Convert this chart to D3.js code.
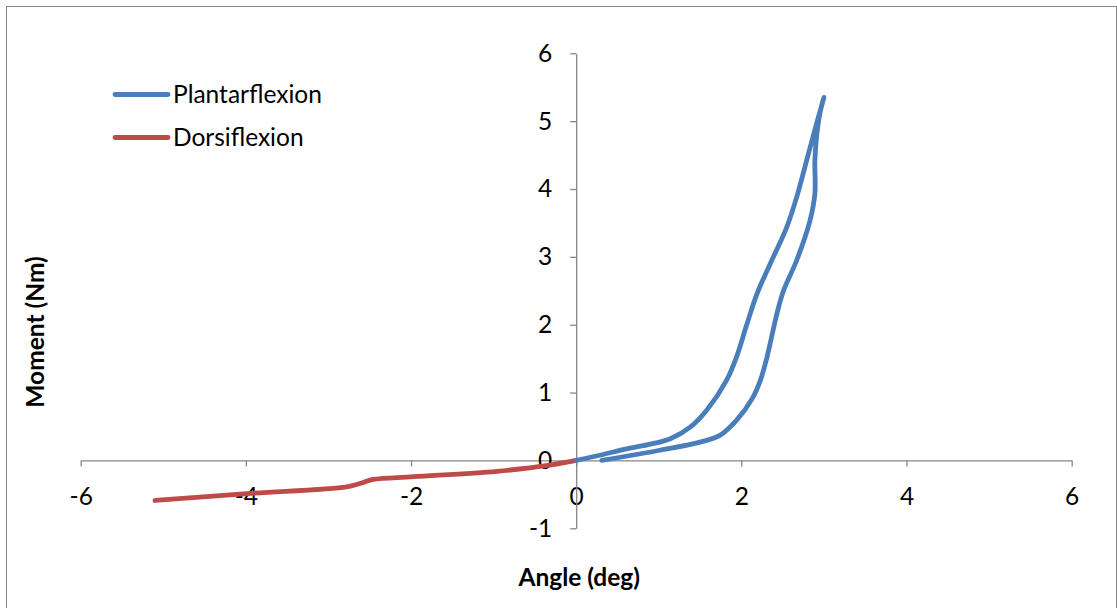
<!DOCTYPE html>
<html>
<head>
<meta charset="utf-8">
<script src="https://cdn.jsdelivr.net/npm/d3@7"></script>
<style>
  html, body { margin: 0; padding: 0; background: #ffffff; }
  svg { display: block; }
  text { font-family: Lato, "Liberation Sans", sans-serif; fill: #000; }
</style>
</head>
<body>
<script>
// Ankle moment–angle data (angle in degrees, moment in Nm)
const plantarAngle  = [0.00, 0.30, 0.61, 0.90, 1.14, 1.38, 1.58, 1.82, 1.94, 2.06, 2.19, 2.35, 2.55, 2.67, 2.79, 2.91, 3.00,
                       2.95, 2.91, 2.89, 2.89, 2.83, 2.67, 2.51, 2.43, 2.31, 2.23, 2.14, 1.94, 1.74, 1.50, 1.01, 0.31];
const plantarMoment = [0.00, 0.08, 0.17, 0.24, 0.32, 0.49, 0.74, 1.18, 1.52, 1.98, 2.46, 2.90, 3.44, 3.88, 4.42, 4.96, 5.35,
                       5.11, 4.76, 4.42, 3.93, 3.53, 2.95, 2.50, 2.16, 1.52, 1.18, 0.93, 0.59, 0.37, 0.27, 0.15, 0.00];

const dorsiAngle  = [0.00, -0.32, -0.96, -1.97, -2.46, -2.62, -2.78, -3.99, -5.10];
const dorsiMoment = [0.00, -0.07, -0.16, -0.24, -0.28, -0.34, -0.39, -0.49, -0.59];

const xTicks = [-6, -4, -2, 0, 2, 4, 6];
const yTicks = [-1, 0, 1, 2, 3, 4, 5, 6];

const seriesNames  = ["Plantarflexion", "Dorsiflexion"];
const seriesColors = ["#4A7EBB", "#BE4B48"];

const W = 1117, H = 608;
const fontSize = "24.5px";
const svg = d3.select("body").append("svg").attr("width", W).attr("height", H);

// chart frame
svg.append("rect")
  .attr("x", 6.5).attr("y", 6.5)
  .attr("width", 1110).attr("height", 610)
  .attr("fill", "#fff").attr("stroke", "#868686").attr("stroke-width", 1);

const x = d3.scaleLinear().domain([-6, 6]).range([80.7, 1071.7]);
const y = d3.scaleLinear().domain([-1, 6]).range([528.3, 53.3]);

const axisColor = "#868686";

// x axis crossing at moment = 0
const gx = svg.append("g")
  .attr("transform", `translate(0,${y(0)})`)
  .call(d3.axisBottom(x).tickValues(xTicks).tickSize(6).tickPadding(21).tickSizeOuter(0).tickFormat(d3.format("d")));
// y axis crossing at angle = 0
const gy = svg.append("g")
  .attr("transform", `translate(${x(0)},0)`)
  .call(d3.axisLeft(y).tickValues(yTicks).tickSize(6).tickPadding(18).tickSizeOuter(0).tickFormat(d3.format("d")));

[gx, gy].forEach(g => {
  g.select(".domain").attr("stroke", axisColor).attr("stroke-width", 1.3);
  g.selectAll(".tick line").attr("stroke", axisColor).attr("stroke-width", 1.3);
  g.selectAll(".tick text")
    .style("font-family", "Lato, 'Liberation Sans', sans-serif")
    .style("font-size", fontSize).attr("fill", "#000");
});
gx.selectAll(".tick text").text(d => d < 0 ? "-" + Math.abs(d) : d);
gy.selectAll(".tick text").text(d => d < 0 ? "-" + Math.abs(d) : d);

// series lines
const line = d3.line().x(d => x(d[0])).y(d => y(d[1])).curve(d3.curveCatmullRom.alpha(0.5));

const plantar = plantarAngle.map((a, i) => [a, plantarMoment[i]]);
const dorsi   = dorsiAngle.map((a, i) => [a, dorsiMoment[i]]);

svg.append("path").datum(dorsi)
  .attr("d", line).attr("fill", "none")
  .attr("stroke", seriesColors[1]).attr("stroke-width", 4.8)
  .attr("stroke-linecap", "round").attr("stroke-linejoin", "round");

svg.append("path").datum(plantar)
  .attr("d", line).attr("fill", "none")
  .attr("stroke", seriesColors[0]).attr("stroke-width", 4.8)
  .attr("stroke-linecap", "round").attr("stroke-linejoin", "round");

// axis titles
svg.append("text")
  .attr("x", x(0) + 3).attr("y", 586)
  .attr("text-anchor", "middle")
  .style("font-size", fontSize).style("font-weight", "bold")
  .text("Angle (deg)");

svg.append("text")
  .attr("transform", `translate(44,332) rotate(-90)`)
  .attr("text-anchor", "middle")
  .style("font-size", fontSize).style("font-weight", "bold")
  .text("Moment (Nm)");

// legend
const legend = svg.append("g");
seriesNames.forEach((name, i) => {
  const ly = 94.5 + i * 43;
  legend.append("line")
    .attr("x1", 115).attr("x2", 168).attr("y1", ly).attr("y2", ly)
    .attr("stroke", seriesColors[i]).attr("stroke-width", 4.8).attr("stroke-linecap", "round");
  legend.append("text")
    .attr("x", 173).attr("y", ly).attr("dy", "0.35em")
    .style("font-size", fontSize)
    .text(name);
});
</script>
</body>
</html>
